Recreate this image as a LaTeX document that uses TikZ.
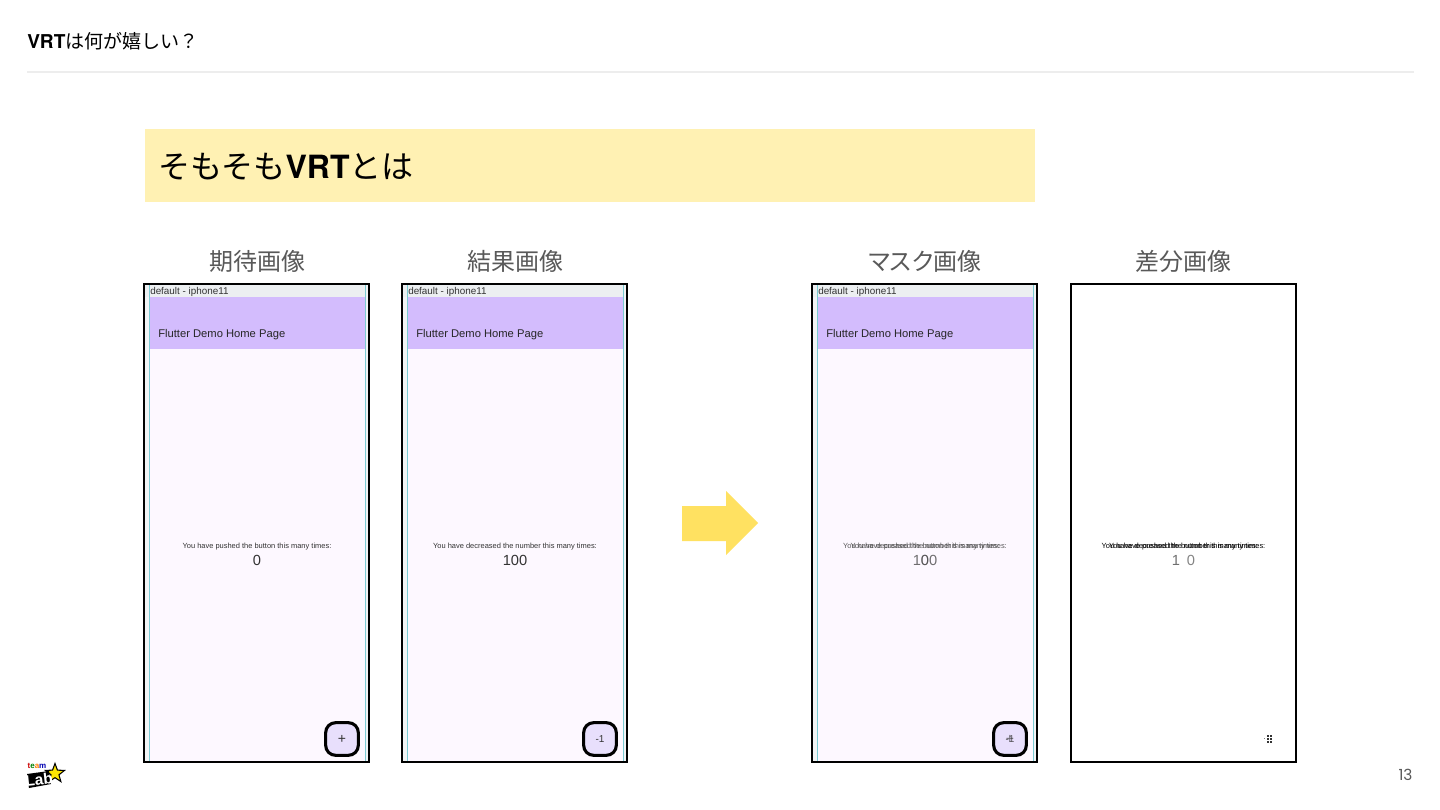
\documentclass[tikz,border=0pt]{standalone}
\usepackage{fontspec}
\setmainfont{Noto Sans CJK JP}
\newfontfamily\pop{Poppins}
\newfontfamily\hvb[BoldFont={* Bold}]{TeX Gyre Heros}
\newfontfamily\scr{Liberation Sans}
\newfontfamily\cjkp[RawFeature=+palt]{Noto Sans CJK JP}
\usetikzlibrary{shapes.geometric}
\definecolor{band}{HTML}{FFF1B3}
\definecolor{arrowy}{HTML}{FFE161}
\definecolor{barp}{HTML}{D3BCFD}
\definecolor{bodyp}{HTML}{FDF8FF}
\definecolor{btnp}{HTML}{E8DFFC}
\definecolor{edge}{HTML}{F2F4F5}
\definecolor{hdrg}{HTML}{ECEFF1}
\definecolor{teal}{HTML}{7CCBD3}
\definecolor{capg}{HTML}{595959}
\tikzset{lbl/.style={font=\fontsize{18}{20}\selectfont,text=capg,inner sep=0pt},
 frame/.style={draw=black,line width=.8pt},
 btn/.style={draw=black,fill=btnp,line width=2.3pt,rounded corners=7.5pt,minimum size=24.5pt,inner sep=0pt},
 hdr/.style={font=\scr\fontsize{7.4}{8}\selectfont,text=black!80,anchor=west,inner sep=0pt},
 ttl/.style={font=\scr\fontsize{8.4}{10}\selectfont,text=black!85,anchor=west,inner sep=0pt},
 msg/.style={font=\scr\fontsize{5.6}{6}\selectfont,text=black!80,inner sep=0pt},
 num/.style={font=\scr\fontsize{11}{12}\selectfont,text=black!80,inner sep=0pt},
 sym/.style={font=\scr\fontsize{7.5}{8}\selectfont,text=black!80,inner sep=0pt},
 plus/.style={font=\scr\fontsize{10.5}{11}\selectfont,text=black!80,inner sep=0pt}}
\begin{document}
\begin{tikzpicture}[x=.75pt,y=-.75pt]
\useasboundingbox(0,0)rectangle(1440,810);
\fill[white](0,0)rectangle(1440,810);
\node[anchor=west,inner sep=0pt,font=\fontsize{14.3}{16}\selectfont](head) at(27,41){{\hvb\bfseries VRT}は何が嬉しい？};
\draw[line width=1.1pt,black!7](27,72)--(1414,72);
\fill[band](145,129)rectangle(1035,202);
\node[anchor=west,inner sep=0pt,font=\fontsize{24}{28}\selectfont](title) at(158,166.5){そもそも{\hvb\bfseries VRT}とは};
\node[lbl](capexp) at(257,261){期待画像};
\node[lbl](capres) at(515,261){結果画像};
\node[lbl,font=\cjkp\fontsize{18}{20}\selectfont](capmsk) at(925,261){マスク画像};
\node[lbl](capdif) at(1183,261){差分画像};
% phones
\foreach \x/\n in {144/exp,402/res,812/msk}{
 \fill[edge](\x,284)rectangle(\x+225,762);
 \fill[bodyp](\x+6,349)rectangle(\x+221,762);
 \fill[hdrg](\x+1,285)rectangle(\x+221,297);
 \fill[barp](\x+6,297)rectangle(\x+221,349);
 \draw[teal,line width=.7pt](\x+5.5,285)--(\x+5.5,761);
 \draw[teal,line width=.7pt](\x+221,285)--(\x+221,761);
 \draw[frame](\x,284)rectangle(\x+225,762);
 \node[hdr](hdr\n) at(\x+6,291.5){default - iphone11};
 \node[ttl](ttl\n) at(\x+14,334.5){Flutter Demo Home Page};
 \node[btn](btn\n) at(\x+198,739){};
}
\draw[frame](1071,284)rectangle(1296,762);
\node[msg](msgexp) at(257,546.5){You have pushed the button this many times:};
\node[num](numexp) at(257,560.5){0};
\node[plus](symexp) at(342,739){+};
\node[msg](msgres) at(515,546.5){You have decreased the number this many times:};
\node[num](numres) at(515,560.5){100};
\node[sym](symres) at(600,739){-1};
% overlaid texts
\node[msg,opacity=.8](msgmska) at(925,546.5){You have pushed the button this many times:};
\node[msg,opacity=.8](msgmskb) at(925,546.5){You have decreased the number this many times:};
\node[num,opacity=.7](nummskb) at(925,560.5){100};
\node[num,opacity=.4](nummska) at(925,560.5){0};
\node[sym,opacity=.8](symmskb) at(1010,739){-1};
\node[plus,opacity=.7](symmska) at(1010,739){+};
\node[msg,text=black](msgdifa) at(1183.5,546.5){You have pushed the button this many times:};
\node[msg,text=black](msgdifb) at(1183.5,546.5){You have decreased the number this many times:};
\node[num,opacity=.7](numdifa) at(1176,560.5){1};
\node[num,opacity=.6](numdifb) at(1191,560.5){0};
\foreach \a in {1268,1271}{\foreach \b in {735.5,738.5,741.5}{\fill[black!80](\a-1,\b-1)rectangle(\a+1,\b+1);}}
\fill[black!50](1263.5,738)rectangle(1265,739);
% arrow
\fill[arrowy](682,506)--(726,506)--(726,491)--(758,523)--(726,555)--(726,541)--(682,541)--cycle;
\node[font=\pop\fontsize{11.5}{12}\selectfont,text=black!65,inner sep=0pt](page) at(1405.5,775){13};
% logo
\node[star,star points=5,star point ratio=2.4,fill=yellow!90!orange,draw=black,line width=.8pt,minimum size=15pt,inner sep=0pt](star) at(55,773.5){};
\fill[black](27,774)--(49,771)--(51,784)--(29,788)--cycle;
\node[font=\scr\bfseries\fontsize{6}{6}\selectfont,inner sep=0pt](team) at(37,766){\textcolor{red!80!black}{t}\textcolor{green!50!black}{e}\textcolor{orange}{a}\textcolor{blue!70!black}{m}};
\node[font=\scr\bfseries\fontsize{11.5}{11}\selectfont,text=white,inner sep=0pt,rotate=6](lab) at(39,779.5){Lab};
\end{tikzpicture}
\end{document}
